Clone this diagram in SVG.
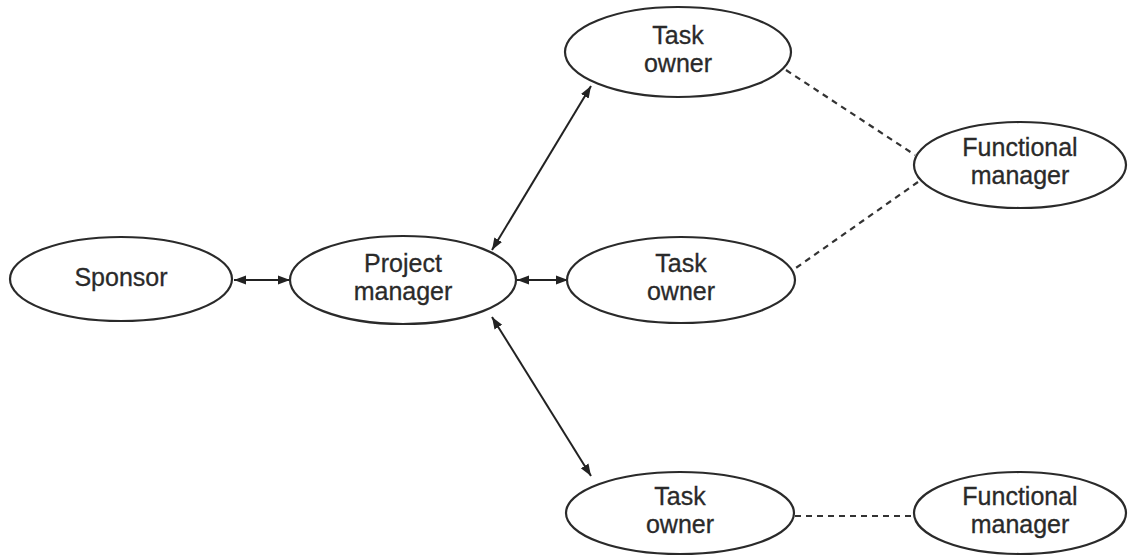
<svg xmlns="http://www.w3.org/2000/svg" width="1128" height="559" viewBox="0 0 1128 559">
<defs>
<marker id="ah" viewBox="0 0 12 10" refX="12" refY="5" markerWidth="12" markerHeight="10" markerUnits="userSpaceOnUse" orient="auto-start-reverse">
<path d="M0,0.5 L12,5 L0,9.5 Z" fill="#222"/>
</marker>
</defs>
<style>
.n ellipse{fill:#fff;stroke:#2a2a2a;stroke-width:2.2}
.n text{font-family:"Liberation Sans",Arial,sans-serif;font-size:25px;fill:#2a2a2a;stroke:#2a2a2a;stroke-width:0.3;text-anchor:middle}
.a{stroke:#222;stroke-width:2;fill:none;marker-start:url(#ah);marker-end:url(#ah)}
.d{stroke:#333;stroke-width:2.2;fill:none;stroke-dasharray:6 5}
</style>
<rect width="1128" height="559" fill="#fff"/>
<g id="connectors">
<line class="a" x1="234" y1="280" x2="290" y2="280"/>
<line class="a" x1="517" y1="280" x2="568" y2="280"/>
<line class="a" x1="492" y1="250" x2="591" y2="86"/>
<line class="a" x1="492" y1="317" x2="591" y2="476"/>
<line class="d" x1="786" y1="70" x2="915" y2="155"/>
<line class="d" x1="918" y1="182" x2="793" y2="270"/>
<line class="d" x1="795" y1="516" x2="913" y2="516"/>
</g>
<g id="sponsor" class="n">
<ellipse cx="121" cy="279" rx="111" ry="42"/>
<text x="121" y="286">Sponsor</text>
</g>
<g id="project-manager" class="n">
<ellipse cx="403" cy="280" rx="113" ry="44"/>
<text x="403" y="272">Project</text>
<text x="403" y="300">manager</text>
</g>
<g id="task-owner-1" class="n">
<ellipse cx="678" cy="52" rx="113" ry="45"/>
<text x="678" y="44">Task</text>
<text x="678" y="72">owner</text>
</g>
<g id="task-owner-2" class="n">
<ellipse cx="681" cy="280" rx="114" ry="43"/>
<text x="681" y="272">Task</text>
<text x="681" y="300">owner</text>
</g>
<g id="task-owner-3" class="n">
<ellipse cx="680" cy="513" rx="114" ry="41"/>
<text x="680" y="505">Task</text>
<text x="680" y="533">owner</text>
</g>
<g id="functional-manager-1" class="n">
<ellipse cx="1020" cy="165" rx="106" ry="43"/>
<text x="1020" y="156">Functional</text>
<text x="1020" y="184">manager</text>
</g>
<g id="functional-manager-2" class="n">
<ellipse cx="1020" cy="513" rx="106" ry="41"/>
<text x="1020" y="505">Functional</text>
<text x="1020" y="533">manager</text>
</g>
</svg>
